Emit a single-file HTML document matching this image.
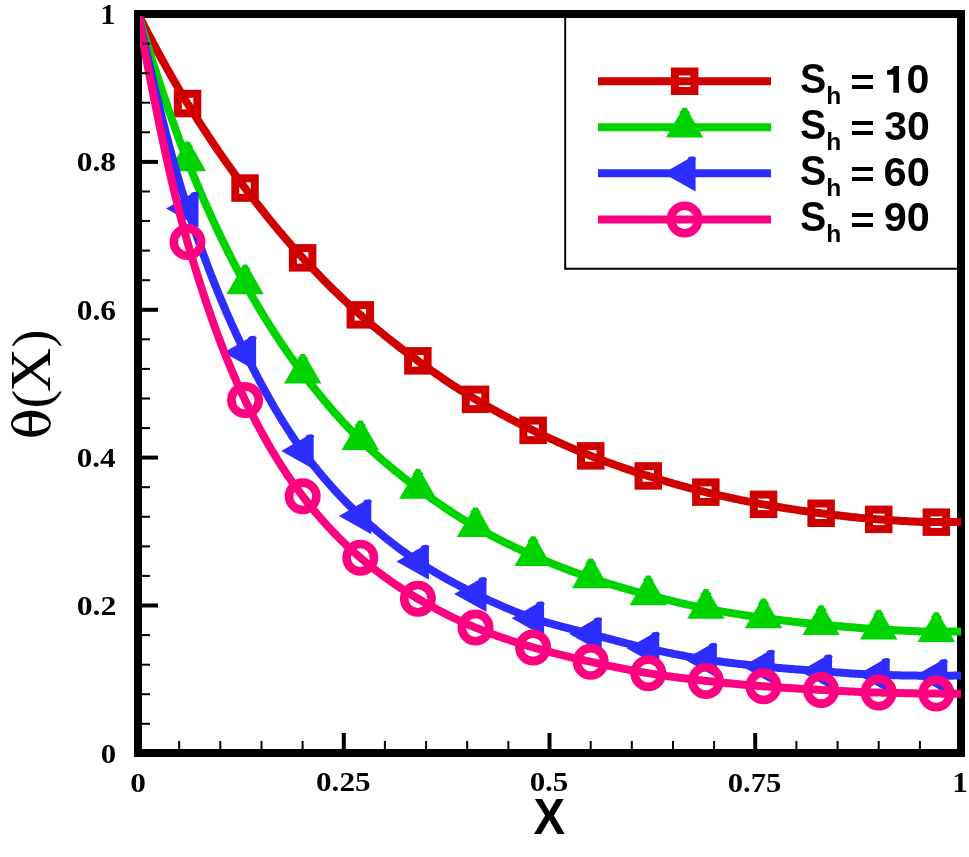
<!DOCTYPE html>
<html><head><meta charset="utf-8"><style>
html,body{margin:0;padding:0;background:#fff;}
svg{display:block;}
</style></head><body>
<svg width="969" height="857" viewBox="0 0 969 857">
<defs><clipPath id="clip"><rect x="140" y="16" width="821" height="735"/></clipPath></defs>
<rect width="969" height="857" fill="#fff"/>
<rect x="138" y="14" width="823" height="739" fill="none" stroke="#000" stroke-width="8"/>
<g clip-path="url(#clip)">
<path d="M138.0,14.0 L139.5,16.9 L141.0,19.9 L142.5,22.8 L144.0,25.7 L145.5,28.6 L147.0,31.5 L148.5,34.3 L150.0,37.2 L151.5,40.0 L153.0,42.8 L154.5,45.7 L156.0,48.5 L157.5,51.2 L159.0,54.0 L160.5,56.8 L162.0,59.5 L163.5,62.2 L165.0,64.9 L166.5,67.6 L168.0,70.3 L169.5,72.9 L171.0,75.6 L172.5,78.2 L174.0,80.8 L175.5,83.4 L177.0,86.0 L178.5,88.5 L180.0,91.1 L181.5,93.6 L183.0,96.1 L184.5,98.6 L186.0,101.1 L187.5,103.5 L189.0,105.9 L190.5,108.3 L192.0,110.8 L193.5,113.1 L195.0,115.5 L196.5,117.9 L198.0,120.2 L199.5,122.6 L201.0,124.9 L202.5,127.2 L204.0,129.5 L205.5,131.8 L207.0,134.1 L208.5,136.4 L210.0,138.6 L211.5,140.8 L213.0,143.1 L214.5,145.3 L216.0,147.5 L217.5,149.7 L219.0,151.9 L220.5,154.0 L222.0,156.2 L223.5,158.4 L225.0,160.5 L226.5,162.6 L228.0,164.7 L229.5,166.8 L231.0,168.9 L232.5,171.0 L234.0,173.1 L235.5,175.1 L237.0,177.2 L238.5,179.2 L240.0,181.3 L241.5,183.3 L243.0,185.3 L244.5,187.3 L246.0,189.3 L247.5,191.3 L249.0,193.3 L250.5,195.2 L252.0,197.2 L253.5,199.1 L255.0,201.1 L256.5,203.0 L258.0,204.9 L259.5,206.8 L261.0,208.7 L262.5,210.6 L264.0,212.5 L265.5,214.4 L267.0,216.3 L268.5,218.1 L270.0,220.0 L271.5,221.8 L273.0,223.6 L274.5,225.5 L276.0,227.3 L277.5,229.1 L279.0,230.9 L280.5,232.6 L282.0,234.4 L283.5,236.2 L285.0,237.9 L286.5,239.7 L288.0,241.4 L289.5,243.1 L291.0,244.9 L292.5,246.6 L294.0,248.3 L295.5,249.9 L297.0,251.6 L298.5,253.3 L300.0,254.9 L301.5,256.6 L303.0,258.2 L304.5,259.9 L306.0,261.5 L307.5,263.1 L309.0,264.7 L310.5,266.3 L312.0,267.9 L313.5,269.5 L315.0,271.0 L316.5,272.6 L318.0,274.2 L319.5,275.7 L321.0,277.2 L322.5,278.8 L324.0,280.3 L325.5,281.8 L327.0,283.3 L328.5,284.8 L330.0,286.3 L331.5,287.8 L333.0,289.3 L334.5,290.8 L336.0,292.2 L337.5,293.7 L339.0,295.1 L340.5,296.6 L342.0,298.0 L343.5,299.4 L345.0,300.8 L346.5,302.2 L348.0,303.6 L349.5,305.0 L351.0,306.4 L352.5,307.8 L354.0,309.2 L355.5,310.5 L357.0,311.9 L358.5,313.2 L360.0,314.5 L361.5,315.9 L363.0,317.2 L364.5,318.5 L366.0,319.8 L367.5,321.1 L369.0,322.4 L370.5,323.7 L372.0,324.9 L373.5,326.2 L375.0,327.5 L376.5,328.7 L378.0,329.9 L379.5,331.2 L381.0,332.4 L382.5,333.6 L384.0,334.9 L385.5,336.1 L387.0,337.3 L388.5,338.5 L390.0,339.7 L391.5,340.9 L393.0,342.1 L394.5,343.2 L396.0,344.4 L397.5,345.6 L399.0,346.7 L400.5,347.9 L402.0,349.0 L403.5,350.2 L405.0,351.3 L406.5,352.5 L408.0,353.6 L409.5,354.7 L411.0,355.8 L412.5,356.9 L414.0,358.0 L415.5,359.1 L417.0,360.2 L418.5,361.3 L420.0,362.4 L421.5,363.5 L423.0,364.6 L424.5,365.7 L426.0,366.7 L427.5,367.8 L429.0,368.9 L430.5,369.9 L432.0,371.0 L433.5,372.0 L435.0,373.1 L436.5,374.1 L438.0,375.2 L439.5,376.2 L441.0,377.2 L442.5,378.3 L444.0,379.3 L445.5,380.3 L447.0,381.3 L448.5,382.3 L450.0,383.3 L451.5,384.3 L453.0,385.3 L454.5,386.3 L456.0,387.2 L457.5,388.2 L459.0,389.2 L460.5,390.1 L462.0,391.1 L463.5,392.0 L465.0,393.0 L466.5,393.9 L468.0,394.8 L469.5,395.8 L471.0,396.7 L472.5,397.6 L474.0,398.5 L475.5,399.4 L477.0,400.3 L478.5,401.2 L480.0,402.1 L481.5,402.9 L483.0,403.8 L484.5,404.7 L486.0,405.5 L487.5,406.4 L489.0,407.3 L490.5,408.1 L492.0,408.9 L493.5,409.8 L495.0,410.6 L496.5,411.4 L498.0,412.3 L499.5,413.1 L501.0,413.9 L502.5,414.7 L504.0,415.5 L505.5,416.3 L507.0,417.1 L508.5,417.9 L510.0,418.7 L511.5,419.5 L513.0,420.3 L514.5,421.1 L516.0,421.8 L517.5,422.6 L519.0,423.4 L520.5,424.1 L522.0,424.9 L523.5,425.7 L525.0,426.4 L526.5,427.2 L528.0,427.9 L529.5,428.6 L531.0,429.4 L532.5,430.1 L534.0,430.8 L535.5,431.6 L537.0,432.3 L538.5,433.0 L540.0,433.7 L541.5,434.4 L543.0,435.1 L544.5,435.9 L546.0,436.6 L547.5,437.3 L549.0,438.0 L550.5,438.7 L552.0,439.4 L553.5,440.0 L555.0,440.7 L556.5,441.4 L558.0,442.1 L559.5,442.8 L561.0,443.4 L562.5,444.1 L564.0,444.8 L565.5,445.4 L567.0,446.1 L568.5,446.7 L570.0,447.4 L571.5,448.0 L573.0,448.7 L574.5,449.3 L576.0,449.9 L577.5,450.6 L579.0,451.2 L580.5,451.8 L582.0,452.4 L583.5,453.0 L585.0,453.6 L586.5,454.2 L588.0,454.8 L589.5,455.4 L591.0,456.0 L592.5,456.6 L594.0,457.2 L595.5,457.8 L597.0,458.3 L598.5,458.9 L600.0,459.5 L601.5,460.0 L603.0,460.6 L604.5,461.1 L606.0,461.7 L607.5,462.2 L609.0,462.8 L610.5,463.3 L612.0,463.9 L613.5,464.4 L615.0,464.9 L616.5,465.5 L618.0,466.0 L619.5,466.5 L621.0,467.0 L622.5,467.6 L624.0,468.1 L625.5,468.6 L627.0,469.1 L628.5,469.6 L630.0,470.1 L631.5,470.6 L633.0,471.1 L634.5,471.6 L636.0,472.1 L637.5,472.6 L639.0,473.1 L640.5,473.5 L642.0,474.0 L643.5,474.5 L645.0,475.0 L646.5,475.4 L648.0,475.9 L649.5,476.4 L651.0,476.8 L652.5,477.3 L654.0,477.8 L655.5,478.2 L657.0,478.7 L658.5,479.1 L660.0,479.6 L661.5,480.0 L663.0,480.5 L664.5,480.9 L666.0,481.4 L667.5,481.8 L669.0,482.3 L670.5,482.7 L672.0,483.1 L673.5,483.6 L675.0,484.0 L676.5,484.4 L678.0,484.9 L679.5,485.3 L681.0,485.7 L682.5,486.1 L684.0,486.5 L685.5,486.9 L687.0,487.3 L688.5,487.8 L690.0,488.2 L691.5,488.6 L693.0,488.9 L694.5,489.3 L696.0,489.7 L697.5,490.1 L699.0,490.5 L700.5,490.9 L702.0,491.2 L703.5,491.6 L705.0,492.0 L706.5,492.3 L708.0,492.7 L709.5,493.1 L711.0,493.4 L712.5,493.8 L714.0,494.1 L715.5,494.5 L717.0,494.8 L718.5,495.2 L720.0,495.5 L721.5,495.9 L723.0,496.2 L724.5,496.5 L726.0,496.9 L727.5,497.2 L729.0,497.5 L730.5,497.9 L732.0,498.2 L733.5,498.5 L735.0,498.8 L736.5,499.1 L738.0,499.4 L739.5,499.8 L741.0,500.1 L742.5,500.4 L744.0,500.7 L745.5,501.0 L747.0,501.3 L748.5,501.6 L750.0,501.9 L751.5,502.2 L753.0,502.5 L754.5,502.7 L756.0,503.0 L757.5,503.3 L759.0,503.6 L760.5,503.9 L762.0,504.1 L763.5,504.4 L765.0,504.7 L766.5,504.9 L768.0,505.2 L769.5,505.5 L771.0,505.7 L772.5,506.0 L774.0,506.2 L775.5,506.5 L777.0,506.7 L778.5,507.0 L780.0,507.2 L781.5,507.5 L783.0,507.7 L784.5,508.0 L786.0,508.2 L787.5,508.5 L789.0,508.7 L790.5,508.9 L792.0,509.2 L793.5,509.4 L795.0,509.6 L796.5,509.9 L798.0,510.1 L799.5,510.3 L801.0,510.6 L802.5,510.8 L804.0,511.0 L805.5,511.2 L807.0,511.4 L808.5,511.6 L810.0,511.8 L811.5,512.0 L813.0,512.2 L814.5,512.4 L816.0,512.6 L817.5,512.8 L819.0,513.0 L820.5,513.2 L822.0,513.4 L823.5,513.6 L825.0,513.8 L826.5,514.0 L828.0,514.2 L829.5,514.4 L831.0,514.5 L832.5,514.7 L834.0,514.9 L835.5,515.1 L837.0,515.3 L838.5,515.5 L840.0,515.6 L841.5,515.8 L843.0,516.0 L844.5,516.2 L846.0,516.3 L847.5,516.5 L849.0,516.7 L850.5,516.9 L852.0,517.0 L853.5,517.2 L855.0,517.3 L856.5,517.5 L858.0,517.6 L859.5,517.8 L861.0,517.9 L862.5,518.1 L864.0,518.2 L865.5,518.4 L867.0,518.5 L868.5,518.6 L870.0,518.8 L871.5,518.9 L873.0,519.0 L874.5,519.1 L876.0,519.2 L877.5,519.3 L879.0,519.4 L880.5,519.5 L882.0,519.6 L883.5,519.7 L885.0,519.8 L886.5,519.9 L888.0,520.0 L889.5,520.1 L891.0,520.2 L892.5,520.3 L894.0,520.4 L895.5,520.5 L897.0,520.6 L898.5,520.7 L900.0,520.8 L901.5,520.9 L903.0,521.0 L904.5,521.1 L906.0,521.1 L907.5,521.2 L909.0,521.3 L910.5,521.4 L912.0,521.4 L913.5,521.5 L915.0,521.6 L916.5,521.7 L918.0,521.7 L919.5,521.8 L921.0,521.8 L922.5,521.9 L924.0,521.9 L925.5,522.0 L927.0,522.0 L928.5,522.0 L930.0,522.1 L931.5,522.1 L933.0,522.1 L934.5,522.1 L936.0,522.1 L937.5,522.1 L939.0,522.1 L940.5,522.1 L942.0,522.1 L943.5,522.1 L945.0,522.1 L946.5,522.1 L948.0,522.1 L949.5,522.1 L951.0,522.1 L952.5,522.0 L954.0,522.0 L955.5,522.0 L957.0,522.0 L958.5,522.0 L960.0,521.9 L961.0,521.9" fill="none" stroke="#D00000" stroke-width="8" stroke-linejoin="round"/>
<rect x="177.8" y="93.8" width="19.5" height="19.5" fill="none" stroke="#D00000" stroke-width="8"/>
<rect x="235.3" y="178.3" width="19.5" height="19.5" fill="none" stroke="#D00000" stroke-width="8"/>
<rect x="292.9" y="248.1" width="19.5" height="19.5" fill="none" stroke="#D00000" stroke-width="8"/>
<rect x="350.6" y="305.1" width="19.5" height="19.5" fill="none" stroke="#D00000" stroke-width="8"/>
<rect x="408.1" y="351.1" width="19.5" height="19.5" fill="none" stroke="#D00000" stroke-width="8"/>
<rect x="465.8" y="389.6" width="19.5" height="19.5" fill="none" stroke="#D00000" stroke-width="8"/>
<rect x="523.4" y="420.6" width="19.5" height="19.5" fill="none" stroke="#D00000" stroke-width="8"/>
<rect x="581.0" y="446.1" width="19.5" height="19.5" fill="none" stroke="#D00000" stroke-width="8"/>
<rect x="638.5" y="466.2" width="19.5" height="19.5" fill="none" stroke="#D00000" stroke-width="8"/>
<rect x="696.1" y="482.4" width="19.5" height="19.5" fill="none" stroke="#D00000" stroke-width="8"/>
<rect x="753.8" y="494.6" width="19.5" height="19.5" fill="none" stroke="#D00000" stroke-width="8"/>
<rect x="811.4" y="503.5" width="19.5" height="19.5" fill="none" stroke="#D00000" stroke-width="8"/>
<rect x="869.0" y="509.6" width="19.5" height="19.5" fill="none" stroke="#D00000" stroke-width="8"/>
<rect x="926.6" y="512.4" width="19.5" height="19.5" fill="none" stroke="#D00000" stroke-width="8"/>
<path d="M138.0,14.0 L139.5,19.0 L141.0,24.0 L142.5,29.0 L144.0,33.9 L145.5,38.8 L147.0,43.7 L148.5,48.5 L150.0,53.3 L151.5,58.1 L153.0,62.8 L154.5,67.5 L156.0,72.2 L157.5,76.8 L159.0,81.4 L160.5,86.0 L162.0,90.5 L163.5,95.0 L165.0,99.4 L166.5,103.8 L168.0,108.2 L169.5,112.5 L171.0,116.8 L172.5,121.0 L174.0,125.2 L175.5,129.4 L177.0,133.5 L178.5,137.6 L180.0,141.6 L181.5,145.5 L183.0,149.4 L184.5,153.3 L186.0,157.1 L187.5,160.9 L189.0,164.6 L190.5,168.3 L192.0,172.0 L193.5,175.6 L195.0,179.2 L196.5,182.8 L198.0,186.4 L199.5,189.9 L201.0,193.4 L202.5,196.9 L204.0,200.3 L205.5,203.7 L207.0,207.1 L208.5,210.5 L210.0,213.8 L211.5,217.1 L213.0,220.4 L214.5,223.6 L216.0,226.8 L217.5,230.0 L219.0,233.2 L220.5,236.3 L222.0,239.4 L223.5,242.5 L225.0,245.6 L226.5,248.6 L228.0,251.6 L229.5,254.6 L231.0,257.5 L232.5,260.5 L234.0,263.4 L235.5,266.2 L237.0,269.1 L238.5,271.9 L240.0,274.7 L241.5,277.5 L243.0,280.2 L244.5,282.9 L246.0,285.6 L247.5,288.3 L249.0,290.9 L250.5,293.6 L252.0,296.2 L253.5,298.8 L255.0,301.3 L256.5,303.9 L258.0,306.4 L259.5,308.9 L261.0,311.4 L262.5,313.9 L264.0,316.4 L265.5,318.8 L267.0,321.2 L268.5,323.6 L270.0,326.0 L271.5,328.3 L273.0,330.7 L274.5,333.0 L276.0,335.3 L277.5,337.6 L279.0,339.8 L280.5,342.1 L282.0,344.3 L283.5,346.5 L285.0,348.7 L286.5,350.9 L288.0,353.0 L289.5,355.2 L291.0,357.3 L292.5,359.4 L294.0,361.5 L295.5,363.6 L297.0,365.6 L298.5,367.7 L300.0,369.7 L301.5,371.7 L303.0,373.7 L304.5,375.7 L306.0,377.6 L307.5,379.6 L309.0,381.5 L310.5,383.5 L312.0,385.4 L313.5,387.3 L315.0,389.2 L316.5,391.0 L318.0,392.9 L319.5,394.7 L321.0,396.6 L322.5,398.4 L324.0,400.2 L325.5,402.0 L327.0,403.8 L328.5,405.6 L330.0,407.3 L331.5,409.1 L333.0,410.8 L334.5,412.5 L336.0,414.2 L337.5,415.9 L339.0,417.6 L340.5,419.2 L342.0,420.9 L343.5,422.5 L345.0,424.1 L346.5,425.7 L348.0,427.3 L349.5,428.9 L351.0,430.4 L352.5,432.0 L354.0,433.5 L355.5,435.0 L357.0,436.5 L358.5,438.0 L360.0,439.5 L361.5,441.0 L363.0,442.4 L364.5,443.9 L366.0,445.3 L367.5,446.7 L369.0,448.1 L370.5,449.5 L372.0,450.9 L373.5,452.2 L375.0,453.6 L376.5,454.9 L378.0,456.3 L379.5,457.6 L381.0,458.9 L382.5,460.2 L384.0,461.5 L385.5,462.8 L387.0,464.0 L388.5,465.3 L390.0,466.6 L391.5,467.8 L393.0,469.1 L394.5,470.3 L396.0,471.5 L397.5,472.7 L399.0,473.9 L400.5,475.1 L402.0,476.3 L403.5,477.5 L405.0,478.7 L406.5,479.8 L408.0,481.0 L409.5,482.2 L411.0,483.3 L412.5,484.4 L414.0,485.6 L415.5,486.7 L417.0,487.8 L418.5,488.9 L420.0,490.1 L421.5,491.2 L423.0,492.3 L424.5,493.4 L426.0,494.5 L427.5,495.5 L429.0,496.6 L430.5,497.7 L432.0,498.8 L433.5,499.8 L435.0,500.9 L436.5,501.9 L438.0,503.0 L439.5,504.0 L441.0,505.0 L442.5,506.1 L444.0,507.1 L445.5,508.1 L447.0,509.1 L448.5,510.1 L450.0,511.1 L451.5,512.1 L453.0,513.1 L454.5,514.0 L456.0,515.0 L457.5,515.9 L459.0,516.9 L460.5,517.8 L462.0,518.8 L463.5,519.7 L465.0,520.6 L466.5,521.5 L468.0,522.4 L469.5,523.3 L471.0,524.2 L472.5,525.1 L474.0,525.9 L475.5,526.8 L477.0,527.7 L478.5,528.5 L480.0,529.3 L481.5,530.2 L483.0,531.0 L484.5,531.8 L486.0,532.6 L487.5,533.5 L489.0,534.3 L490.5,535.1 L492.0,535.9 L493.5,536.6 L495.0,537.4 L496.5,538.2 L498.0,539.0 L499.5,539.7 L501.0,540.5 L502.5,541.3 L504.0,542.0 L505.5,542.8 L507.0,543.5 L508.5,544.2 L510.0,545.0 L511.5,545.7 L513.0,546.4 L514.5,547.1 L516.0,547.8 L517.5,548.5 L519.0,549.2 L520.5,549.9 L522.0,550.6 L523.5,551.3 L525.0,552.0 L526.5,552.7 L528.0,553.3 L529.5,554.0 L531.0,554.7 L532.5,555.3 L534.0,556.0 L535.5,556.6 L537.0,557.3 L538.5,557.9 L540.0,558.6 L541.5,559.2 L543.0,559.8 L544.5,560.5 L546.0,561.1 L547.5,561.7 L549.0,562.3 L550.5,562.9 L552.0,563.6 L553.5,564.2 L555.0,564.8 L556.5,565.4 L558.0,566.0 L559.5,566.5 L561.0,567.1 L562.5,567.7 L564.0,568.3 L565.5,568.9 L567.0,569.4 L568.5,570.0 L570.0,570.6 L571.5,571.1 L573.0,571.7 L574.5,572.2 L576.0,572.8 L577.5,573.3 L579.0,573.9 L580.5,574.4 L582.0,574.9 L583.5,575.4 L585.0,576.0 L586.5,576.5 L588.0,577.0 L589.5,577.5 L591.0,578.0 L592.5,578.5 L594.0,579.0 L595.5,579.5 L597.0,580.0 L598.5,580.5 L600.0,580.9 L601.5,581.4 L603.0,581.9 L604.5,582.4 L606.0,582.8 L607.5,583.3 L609.0,583.8 L610.5,584.2 L612.0,584.7 L613.5,585.1 L615.0,585.6 L616.5,586.0 L618.0,586.5 L619.5,586.9 L621.0,587.4 L622.5,587.8 L624.0,588.2 L625.5,588.7 L627.0,589.1 L628.5,589.5 L630.0,589.9 L631.5,590.4 L633.0,590.8 L634.5,591.2 L636.0,591.6 L637.5,592.0 L639.0,592.4 L640.5,592.8 L642.0,593.2 L643.5,593.6 L645.0,594.0 L646.5,594.4 L648.0,594.8 L649.5,595.2 L651.0,595.6 L652.5,596.0 L654.0,596.4 L655.5,596.8 L657.0,597.2 L658.5,597.6 L660.0,597.9 L661.5,598.3 L663.0,598.7 L664.5,599.1 L666.0,599.5 L667.5,599.8 L669.0,600.2 L670.5,600.6 L672.0,601.0 L673.5,601.3 L675.0,601.7 L676.5,602.1 L678.0,602.4 L679.5,602.8 L681.0,603.1 L682.5,603.5 L684.0,603.8 L685.5,604.2 L687.0,604.5 L688.5,604.9 L690.0,605.2 L691.5,605.5 L693.0,605.8 L694.5,606.2 L696.0,606.5 L697.5,606.8 L699.0,607.1 L700.5,607.4 L702.0,607.7 L703.5,608.0 L705.0,608.3 L706.5,608.6 L708.0,608.9 L709.5,609.2 L711.0,609.5 L712.5,609.7 L714.0,610.0 L715.5,610.3 L717.0,610.6 L718.5,610.8 L720.0,611.1 L721.5,611.4 L723.0,611.6 L724.5,611.9 L726.0,612.2 L727.5,612.4 L729.0,612.7 L730.5,612.9 L732.0,613.2 L733.5,613.4 L735.0,613.7 L736.5,613.9 L738.0,614.1 L739.5,614.4 L741.0,614.6 L742.5,614.8 L744.0,615.1 L745.5,615.3 L747.0,615.5 L748.5,615.8 L750.0,616.0 L751.5,616.2 L753.0,616.4 L754.5,616.6 L756.0,616.9 L757.5,617.1 L759.0,617.3 L760.5,617.5 L762.0,617.7 L763.5,617.9 L765.0,618.1 L766.5,618.3 L768.0,618.5 L769.5,618.7 L771.0,618.9 L772.5,619.1 L774.0,619.3 L775.5,619.5 L777.0,619.7 L778.5,619.9 L780.0,620.1 L781.5,620.2 L783.0,620.4 L784.5,620.6 L786.0,620.8 L787.5,621.0 L789.0,621.2 L790.5,621.3 L792.0,621.5 L793.5,621.7 L795.0,621.9 L796.5,622.0 L798.0,622.2 L799.5,622.4 L801.0,622.5 L802.5,622.7 L804.0,622.9 L805.5,623.0 L807.0,623.2 L808.5,623.3 L810.0,623.5 L811.5,623.7 L813.0,623.8 L814.5,624.0 L816.0,624.1 L817.5,624.3 L819.0,624.4 L820.5,624.5 L822.0,624.7 L823.5,624.8 L825.0,625.0 L826.5,625.1 L828.0,625.2 L829.5,625.4 L831.0,625.5 L832.5,625.7 L834.0,625.8 L835.5,625.9 L837.0,626.1 L838.5,626.2 L840.0,626.3 L841.5,626.5 L843.0,626.6 L844.5,626.7 L846.0,626.9 L847.5,627.0 L849.0,627.1 L850.5,627.2 L852.0,627.3 L853.5,627.5 L855.0,627.6 L856.5,627.7 L858.0,627.8 L859.5,627.9 L861.0,628.0 L862.5,628.2 L864.0,628.3 L865.5,628.4 L867.0,628.5 L868.5,628.6 L870.0,628.7 L871.5,628.8 L873.0,628.9 L874.5,629.0 L876.0,629.0 L877.5,629.1 L879.0,629.2 L880.5,629.3 L882.0,629.4 L883.5,629.5 L885.0,629.6 L886.5,629.7 L888.0,629.7 L889.5,629.8 L891.0,629.9 L892.5,630.0 L894.0,630.1 L895.5,630.2 L897.0,630.3 L898.5,630.4 L900.0,630.4 L901.5,630.5 L903.0,630.6 L904.5,630.7 L906.0,630.8 L907.5,630.9 L909.0,630.9 L910.5,631.0 L912.0,631.1 L913.5,631.1 L915.0,631.2 L916.5,631.3 L918.0,631.3 L919.5,631.4 L921.0,631.4 L922.5,631.5 L924.0,631.5 L925.5,631.6 L927.0,631.6 L928.5,631.6 L930.0,631.7 L931.5,631.7 L933.0,631.7 L934.5,631.7 L936.0,631.7 L937.5,631.7 L939.0,631.7 L940.5,631.7 L942.0,631.7 L943.5,631.7 L945.0,631.7 L946.5,631.7 L948.0,631.6 L949.5,631.6 L951.0,631.6 L952.5,631.6 L954.0,631.6 L955.5,631.5 L957.0,631.5 L958.5,631.5 L960.0,631.4 L961.0,631.4" fill="none" stroke="#00D400" stroke-width="8" stroke-linejoin="round"/>
<polygon points="168.8,171.2 182.8,147.2 182.2,145.9 183.9,144.3 185.4,141.5 189.6,141.5 191.1,144.3 192.9,145.9 192.4,147.2 206.2,171.2" fill="#00D400"/>
<polygon points="226.4,294.3 240.4,270.3 239.8,269.0 241.5,267.4 243.0,264.6 247.2,264.6 248.7,267.4 250.5,269.0 250.0,270.3 263.8,294.3" fill="#00D400"/>
<polygon points="284.0,383.6 298.0,359.6 297.4,358.3 299.1,356.7 300.6,353.9 304.8,353.9 306.3,356.7 308.1,358.3 307.6,359.6 321.4,383.6" fill="#00D400"/>
<polygon points="341.6,450.1 355.6,426.1 355.0,424.8 356.7,423.2 358.2,420.4 362.4,420.4 363.9,423.2 365.7,424.8 365.2,426.1 379.0,450.1" fill="#00D400"/>
<polygon points="399.2,498.8 413.2,474.8 412.6,473.5 414.3,471.9 415.8,469.1 420.0,469.1 421.5,471.9 423.3,473.5 422.8,474.8 436.6,498.8" fill="#00D400"/>
<polygon points="456.8,537.1 470.8,513.1 470.2,511.8 471.9,510.2 473.4,507.4 477.6,507.4 479.1,510.2 480.9,511.8 480.4,513.1 494.2,537.1" fill="#00D400"/>
<polygon points="514.4,565.9 528.4,541.9 527.8,540.6 529.5,539.0 531.0,536.2 535.2,536.2 536.7,539.0 538.5,540.6 538.0,541.9 551.8,565.9" fill="#00D400"/>
<polygon points="572.0,588.2 586.0,564.2 585.4,562.9 587.1,561.3 588.6,558.5 592.8,558.5 594.3,561.3 596.1,562.9 595.6,564.2 609.4,588.2" fill="#00D400"/>
<polygon points="629.6,605.2 643.6,581.2 643.0,579.9 644.7,578.3 646.2,575.5 650.4,575.5 651.9,578.3 653.7,579.9 653.2,581.2 667.0,605.2" fill="#00D400"/>
<polygon points="687.2,618.8 701.2,594.8 700.6,593.5 702.3,591.9 703.8,589.1 708.0,589.1 709.5,591.9 711.3,593.5 710.8,594.8 724.6,618.8" fill="#00D400"/>
<polygon points="744.8,628.2 758.8,604.2 758.2,602.9 759.9,601.3 761.4,598.5 765.6,598.5 767.1,601.3 768.9,602.9 768.4,604.2 782.2,628.2" fill="#00D400"/>
<polygon points="802.4,634.9 816.4,610.9 815.8,609.6 817.5,608.0 819.0,605.2 823.2,605.2 824.7,608.0 826.5,609.6 826.0,610.9 839.8,634.9" fill="#00D400"/>
<polygon points="860.0,639.5 874.0,615.5 873.4,614.2 875.1,612.6 876.6,609.8 880.8,609.8 882.3,612.6 884.1,614.2 883.6,615.5 897.4,639.5" fill="#00D400"/>
<polygon points="917.6,642.0 931.6,618.0 931.0,616.7 932.7,615.1 934.2,612.3 938.4,612.3 939.9,615.1 941.7,616.7 941.2,618.0 955.0,642.0" fill="#00D400"/>
<path d="M138.0,14.0 L139.5,20.9 L141.0,27.7 L142.5,34.5 L144.0,41.2 L145.5,47.9 L147.0,54.5 L148.5,61.1 L150.0,67.6 L151.5,74.0 L153.0,80.5 L154.5,86.8 L156.0,93.1 L157.5,99.3 L159.0,105.5 L160.5,111.6 L162.0,117.6 L163.5,123.6 L165.0,129.5 L166.5,135.3 L168.0,141.1 L169.5,146.8 L171.0,152.4 L172.5,157.9 L174.0,163.3 L175.5,168.7 L177.0,174.0 L178.5,179.2 L180.0,184.3 L181.5,189.3 L183.0,194.2 L184.5,199.1 L186.0,203.8 L187.5,208.5 L189.0,213.1 L190.5,217.6 L192.0,222.1 L193.5,226.5 L195.0,230.9 L196.5,235.2 L198.0,239.5 L199.5,243.8 L201.0,247.9 L202.5,252.1 L204.0,256.2 L205.5,260.2 L207.0,264.2 L208.5,268.2 L210.0,272.1 L211.5,276.0 L213.0,279.8 L214.5,283.6 L216.0,287.3 L217.5,291.0 L219.0,294.7 L220.5,298.3 L222.0,301.9 L223.5,305.4 L225.0,308.9 L226.5,312.4 L228.0,315.8 L229.5,319.2 L231.0,322.6 L232.5,325.9 L234.0,329.2 L235.5,332.5 L237.0,335.7 L238.5,338.9 L240.0,342.1 L241.5,345.2 L243.0,348.3 L244.5,351.4 L246.0,354.4 L247.5,357.4 L249.0,360.4 L250.5,363.4 L252.0,366.4 L253.5,369.3 L255.0,372.2 L256.5,375.1 L258.0,377.9 L259.5,380.8 L261.0,383.6 L262.5,386.3 L264.0,389.1 L265.5,391.8 L267.0,394.5 L268.5,397.2 L270.0,399.9 L271.5,402.5 L273.0,405.1 L274.5,407.7 L276.0,410.2 L277.5,412.7 L279.0,415.2 L280.5,417.7 L282.0,420.1 L283.5,422.6 L285.0,424.9 L286.5,427.3 L288.0,429.6 L289.5,431.9 L291.0,434.2 L292.5,436.5 L294.0,438.7 L295.5,440.9 L297.0,443.0 L298.5,445.2 L300.0,447.3 L301.5,449.4 L303.0,451.4 L304.5,453.4 L306.0,455.4 L307.5,457.4 L309.0,459.4 L310.5,461.3 L312.0,463.3 L313.5,465.2 L315.0,467.0 L316.5,468.9 L318.0,470.8 L319.5,472.6 L321.0,474.4 L322.5,476.2 L324.0,478.0 L325.5,479.7 L327.0,481.5 L328.5,483.2 L330.0,484.9 L331.5,486.6 L333.0,488.3 L334.5,489.9 L336.0,491.6 L337.5,493.2 L339.0,494.8 L340.5,496.4 L342.0,498.0 L343.5,499.5 L345.0,501.1 L346.5,502.6 L348.0,504.1 L349.5,505.6 L351.0,507.1 L352.5,508.6 L354.0,510.0 L355.5,511.5 L357.0,512.9 L358.5,514.3 L360.0,515.7 L361.5,517.1 L363.0,518.5 L364.5,519.9 L366.0,521.2 L367.5,522.6 L369.0,523.9 L370.5,525.2 L372.0,526.5 L373.5,527.8 L375.0,529.1 L376.5,530.4 L378.0,531.7 L379.5,532.9 L381.0,534.2 L382.5,535.4 L384.0,536.6 L385.5,537.8 L387.0,539.0 L388.5,540.2 L390.0,541.4 L391.5,542.6 L393.0,543.7 L394.5,544.9 L396.0,546.0 L397.5,547.2 L399.0,548.3 L400.5,549.4 L402.0,550.5 L403.5,551.6 L405.0,552.7 L406.5,553.7 L408.0,554.8 L409.5,555.8 L411.0,556.9 L412.5,557.9 L414.0,558.9 L415.5,559.9 L417.0,560.9 L418.5,561.9 L420.0,562.9 L421.5,563.8 L423.0,564.8 L424.5,565.8 L426.0,566.7 L427.5,567.6 L429.0,568.6 L430.5,569.5 L432.0,570.4 L433.5,571.3 L435.0,572.2 L436.5,573.1 L438.0,574.0 L439.5,574.9 L441.0,575.7 L442.5,576.6 L444.0,577.4 L445.5,578.3 L447.0,579.1 L448.5,580.0 L450.0,580.8 L451.5,581.6 L453.0,582.4 L454.5,583.2 L456.0,584.0 L457.5,584.8 L459.0,585.6 L460.5,586.4 L462.0,587.2 L463.5,587.9 L465.0,588.7 L466.5,589.5 L468.0,590.2 L469.5,591.0 L471.0,591.7 L472.5,592.4 L474.0,593.2 L475.5,593.9 L477.0,594.6 L478.5,595.3 L480.0,596.1 L481.5,596.8 L483.0,597.5 L484.5,598.2 L486.0,598.9 L487.5,599.6 L489.0,600.3 L490.5,601.0 L492.0,601.7 L493.5,602.4 L495.0,603.0 L496.5,603.7 L498.0,604.4 L499.5,605.0 L501.0,605.7 L502.5,606.4 L504.0,607.0 L505.5,607.6 L507.0,608.3 L508.5,608.9 L510.0,609.5 L511.5,610.1 L513.0,610.8 L514.5,611.4 L516.0,612.0 L517.5,612.5 L519.0,613.1 L520.5,613.7 L522.0,614.3 L523.5,614.8 L525.0,615.4 L526.5,615.9 L528.0,616.5 L529.5,617.0 L531.0,617.5 L532.5,618.0 L534.0,618.5 L535.5,619.0 L537.0,619.5 L538.5,619.9 L540.0,620.4 L541.5,620.9 L543.0,621.3 L544.5,621.8 L546.0,622.2 L547.5,622.7 L549.0,623.1 L550.5,623.5 L552.0,623.9 L553.5,624.3 L555.0,624.8 L556.5,625.2 L558.0,625.6 L559.5,626.0 L561.0,626.4 L562.5,626.8 L564.0,627.2 L565.5,627.5 L567.0,627.9 L568.5,628.3 L570.0,628.7 L571.5,629.1 L573.0,629.5 L574.5,629.8 L576.0,630.2 L577.5,630.6 L579.0,631.0 L580.5,631.4 L582.0,631.8 L583.5,632.1 L585.0,632.5 L586.5,632.9 L588.0,633.3 L589.5,633.7 L591.0,634.1 L592.5,634.5 L594.0,634.9 L595.5,635.3 L597.0,635.7 L598.5,636.1 L600.0,636.5 L601.5,636.9 L603.0,637.2 L604.5,637.6 L606.0,638.0 L607.5,638.4 L609.0,638.8 L610.5,639.2 L612.0,639.6 L613.5,640.0 L615.0,640.4 L616.5,640.8 L618.0,641.2 L619.5,641.6 L621.0,642.0 L622.5,642.3 L624.0,642.7 L625.5,643.1 L627.0,643.5 L628.5,643.9 L630.0,644.2 L631.5,644.6 L633.0,645.0 L634.5,645.3 L636.0,645.7 L637.5,646.0 L639.0,646.4 L640.5,646.7 L642.0,647.1 L643.5,647.4 L645.0,647.8 L646.5,648.1 L648.0,648.4 L649.5,648.8 L651.0,649.1 L652.5,649.4 L654.0,649.7 L655.5,650.1 L657.0,650.4 L658.5,650.7 L660.0,651.0 L661.5,651.3 L663.0,651.6 L664.5,652.0 L666.0,652.3 L667.5,652.6 L669.0,652.9 L670.5,653.2 L672.0,653.5 L673.5,653.8 L675.0,654.1 L676.5,654.4 L678.0,654.7 L679.5,655.0 L681.0,655.2 L682.5,655.5 L684.0,655.8 L685.5,656.1 L687.0,656.4 L688.5,656.6 L690.0,656.9 L691.5,657.2 L693.0,657.4 L694.5,657.7 L696.0,657.9 L697.5,658.2 L699.0,658.4 L700.5,658.7 L702.0,658.9 L703.5,659.1 L705.0,659.4 L706.5,659.6 L708.0,659.8 L709.5,660.0 L711.0,660.2 L712.5,660.5 L714.0,660.7 L715.5,660.9 L717.0,661.1 L718.5,661.3 L720.0,661.5 L721.5,661.7 L723.0,661.9 L724.5,662.1 L726.0,662.3 L727.5,662.5 L729.0,662.7 L730.5,662.9 L732.0,663.0 L733.5,663.2 L735.0,663.4 L736.5,663.6 L738.0,663.8 L739.5,663.9 L741.0,664.1 L742.5,664.3 L744.0,664.5 L745.5,664.6 L747.0,664.8 L748.5,665.0 L750.0,665.1 L751.5,665.3 L753.0,665.4 L754.5,665.6 L756.0,665.7 L757.5,665.9 L759.0,666.1 L760.5,666.2 L762.0,666.4 L763.5,666.5 L765.0,666.6 L766.5,666.8 L768.0,666.9 L769.5,667.1 L771.0,667.2 L772.5,667.3 L774.0,667.5 L775.5,667.6 L777.0,667.8 L778.5,667.9 L780.0,668.0 L781.5,668.1 L783.0,668.3 L784.5,668.4 L786.0,668.5 L787.5,668.7 L789.0,668.8 L790.5,668.9 L792.0,669.0 L793.5,669.1 L795.0,669.3 L796.5,669.4 L798.0,669.5 L799.5,669.6 L801.0,669.7 L802.5,669.8 L804.0,670.0 L805.5,670.1 L807.0,670.2 L808.5,670.3 L810.0,670.4 L811.5,670.5 L813.0,670.6 L814.5,670.7 L816.0,670.8 L817.5,670.9 L819.0,671.1 L820.5,671.2 L822.0,671.3 L823.5,671.4 L825.0,671.5 L826.5,671.6 L828.0,671.7 L829.5,671.8 L831.0,671.9 L832.5,672.0 L834.0,672.1 L835.5,672.3 L837.0,672.4 L838.5,672.5 L840.0,672.6 L841.5,672.7 L843.0,672.8 L844.5,672.9 L846.0,673.0 L847.5,673.1 L849.0,673.3 L850.5,673.4 L852.0,673.5 L853.5,673.6 L855.0,673.7 L856.5,673.8 L858.0,673.8 L859.5,673.9 L861.0,674.0 L862.5,674.1 L864.0,674.2 L865.5,674.3 L867.0,674.3 L868.5,674.4 L870.0,674.5 L871.5,674.6 L873.0,674.6 L874.5,674.7 L876.0,674.7 L877.5,674.8 L879.0,674.8 L880.5,674.8 L882.0,674.9 L883.5,674.9 L885.0,675.0 L886.5,675.0 L888.0,675.0 L889.5,675.1 L891.0,675.1 L892.5,675.2 L894.0,675.2 L895.5,675.2 L897.0,675.3 L898.5,675.3 L900.0,675.3 L901.5,675.4 L903.0,675.4 L904.5,675.4 L906.0,675.5 L907.5,675.5 L909.0,675.5 L910.5,675.6 L912.0,675.6 L913.5,675.6 L915.0,675.6 L916.5,675.6 L918.0,675.7 L919.5,675.7 L921.0,675.7 L922.5,675.7 L924.0,675.7 L925.5,675.8 L927.0,675.8 L928.5,675.8 L930.0,675.8 L931.5,675.8 L933.0,675.8 L934.5,675.8 L936.0,675.8 L937.5,675.8 L939.0,675.8 L940.5,675.8 L942.0,675.8 L943.5,675.8 L945.0,675.8 L946.5,675.7 L948.0,675.7 L949.5,675.7 L951.0,675.7 L952.5,675.7 L954.0,675.6 L955.5,675.6 L957.0,675.6 L958.5,675.6 L960.0,675.5 L961.0,675.5" fill="none" stroke="#2D2DFF" stroke-width="8" stroke-linejoin="round"/>
<polygon points="166.1,208.5 190.5,194.5 190.9,192.9 193.5,191.9 197.1,191.7 199.1,193.5 198.5,195.3 198.5,226.7" fill="#2D2DFF"/>
<polygon points="223.7,352.6 248.1,338.6 248.5,337.0 251.1,336.0 254.7,335.8 256.7,337.6 256.1,339.4 256.1,370.8" fill="#2D2DFF"/>
<polygon points="281.3,451.0 305.7,437.0 306.1,435.4 308.7,434.4 312.3,434.2 314.3,436.0 313.7,437.8 313.7,469.2" fill="#2D2DFF"/>
<polygon points="338.9,516.0 363.3,502.0 363.7,500.4 366.3,499.4 369.9,499.2 371.9,501.0 371.3,502.8 371.3,534.2" fill="#2D2DFF"/>
<polygon points="396.5,561.5 420.9,547.5 421.3,545.9 423.9,544.9 427.5,544.7 429.5,546.5 428.9,548.3 428.9,579.7" fill="#2D2DFF"/>
<polygon points="454.1,593.9 478.5,579.9 478.9,578.3 481.5,577.3 485.1,577.1 487.1,578.9 486.5,580.7 486.5,612.1" fill="#2D2DFF"/>
<polygon points="511.7,618.2 536.1,604.2 536.5,602.6 539.1,601.6 542.7,601.4 544.7,603.2 544.1,605.0 544.1,636.4" fill="#2D2DFF"/>
<polygon points="569.3,634.0 593.7,620.0 594.1,618.4 596.7,617.4 600.3,617.2 602.3,619.0 601.7,620.8 601.7,652.2" fill="#2D2DFF"/>
<polygon points="626.9,648.5 651.3,634.5 651.7,632.9 654.3,631.9 657.9,631.7 659.9,633.5 659.3,635.3 659.3,666.7" fill="#2D2DFF"/>
<polygon points="684.5,659.5 708.9,645.5 709.3,643.9 711.9,642.9 715.5,642.7 717.5,644.5 716.9,646.3 716.9,677.7" fill="#2D2DFF"/>
<polygon points="742.1,666.5 766.5,652.5 766.9,650.9 769.5,649.9 773.1,649.7 775.1,651.5 774.5,653.3 774.5,684.7" fill="#2D2DFF"/>
<polygon points="799.7,671.2 824.1,657.2 824.5,655.6 827.1,654.6 830.7,654.4 832.7,656.2 832.1,658.0 832.1,689.4" fill="#2D2DFF"/>
<polygon points="857.3,674.8 881.7,660.8 882.1,659.2 884.7,658.2 888.3,658.0 890.3,659.8 889.7,661.6 889.7,693.0" fill="#2D2DFF"/>
<polygon points="914.9,675.8 939.3,661.8 939.7,660.2 942.3,659.2 945.9,659.0 947.9,660.8 947.3,662.6 947.3,694.0" fill="#2D2DFF"/>
<path d="M138.0,14.0 L139.5,22.2 L141.0,30.3 L142.5,38.4 L144.0,46.4 L145.5,54.3 L147.0,62.2 L148.5,70.0 L150.0,77.8 L151.5,85.4 L153.0,93.0 L154.5,100.6 L156.0,108.0 L157.5,115.4 L159.0,122.7 L160.5,129.9 L162.0,137.0 L163.5,144.0 L165.0,150.9 L166.5,157.7 L168.0,164.5 L169.5,171.1 L171.0,177.6 L172.5,184.1 L174.0,190.4 L175.5,196.6 L177.0,202.7 L178.5,208.7 L180.0,214.6 L181.5,220.3 L183.0,225.9 L184.5,231.5 L186.0,236.8 L187.5,242.1 L189.0,247.3 L190.5,252.4 L192.0,257.4 L193.5,262.4 L195.0,267.3 L196.5,272.2 L198.0,277.0 L199.5,281.7 L201.0,286.4 L202.5,291.1 L204.0,295.6 L205.5,300.2 L207.0,304.6 L208.5,309.0 L210.0,313.4 L211.5,317.7 L213.0,321.9 L214.5,326.1 L216.0,330.3 L217.5,334.3 L219.0,338.4 L220.5,342.3 L222.0,346.2 L223.5,350.1 L225.0,353.9 L226.5,357.7 L228.0,361.4 L229.5,365.1 L231.0,368.7 L232.5,372.2 L234.0,375.7 L235.5,379.2 L237.0,382.6 L238.5,385.9 L240.0,389.2 L241.5,392.5 L243.0,395.7 L244.5,398.9 L246.0,402.0 L247.5,405.0 L249.0,408.1 L250.5,411.1 L252.0,414.1 L253.5,417.0 L255.0,419.9 L256.5,422.8 L258.0,425.6 L259.5,428.4 L261.0,431.2 L262.5,434.0 L264.0,436.7 L265.5,439.3 L267.0,442.0 L268.5,444.6 L270.0,447.2 L271.5,449.8 L273.0,452.3 L274.5,454.8 L276.0,457.2 L277.5,459.7 L279.0,462.1 L280.5,464.5 L282.0,466.8 L283.5,469.1 L285.0,471.4 L286.5,473.7 L288.0,475.9 L289.5,478.1 L291.0,480.3 L292.5,482.4 L294.0,484.5 L295.5,486.6 L297.0,488.7 L298.5,490.7 L300.0,492.7 L301.5,494.7 L303.0,496.7 L304.5,498.6 L306.0,500.5 L307.5,502.4 L309.0,504.3 L310.5,506.2 L312.0,508.0 L313.5,509.8 L315.0,511.6 L316.5,513.4 L318.0,515.2 L319.5,516.9 L321.0,518.7 L322.5,520.4 L324.0,522.1 L325.5,523.7 L327.0,525.4 L328.5,527.0 L330.0,528.6 L331.5,530.2 L333.0,531.8 L334.5,533.4 L336.0,534.9 L337.5,536.4 L339.0,538.0 L340.5,539.5 L342.0,540.9 L343.5,542.4 L345.0,543.8 L346.5,545.3 L348.0,546.7 L349.5,548.1 L351.0,549.5 L352.5,550.8 L354.0,552.2 L355.5,553.5 L357.0,554.8 L358.5,556.2 L360.0,557.4 L361.5,558.7 L363.0,560.0 L364.5,561.2 L366.0,562.5 L367.5,563.7 L369.0,564.9 L370.5,566.1 L372.0,567.3 L373.5,568.5 L375.0,569.7 L376.5,570.8 L378.0,572.0 L379.5,573.1 L381.0,574.2 L382.5,575.3 L384.0,576.4 L385.5,577.5 L387.0,578.6 L388.5,579.7 L390.0,580.7 L391.5,581.8 L393.0,582.8 L394.5,583.9 L396.0,584.9 L397.5,585.9 L399.0,586.9 L400.5,587.9 L402.0,588.9 L403.5,589.8 L405.0,590.8 L406.5,591.7 L408.0,592.7 L409.5,593.6 L411.0,594.6 L412.5,595.5 L414.0,596.4 L415.5,597.3 L417.0,598.2 L418.5,599.1 L420.0,599.9 L421.5,600.8 L423.0,601.7 L424.5,602.5 L426.0,603.4 L427.5,604.2 L429.0,605.1 L430.5,605.9 L432.0,606.7 L433.5,607.5 L435.0,608.3 L436.5,609.2 L438.0,610.0 L439.5,610.7 L441.0,611.5 L442.5,612.3 L444.0,613.1 L445.5,613.8 L447.0,614.6 L448.5,615.4 L450.0,616.1 L451.5,616.8 L453.0,617.6 L454.5,618.3 L456.0,619.0 L457.5,619.7 L459.0,620.4 L460.5,621.1 L462.0,621.8 L463.5,622.5 L465.0,623.1 L466.5,623.8 L468.0,624.4 L469.5,625.1 L471.0,625.7 L472.5,626.4 L474.0,627.0 L475.5,627.6 L477.0,628.2 L478.5,628.8 L480.0,629.4 L481.5,630.0 L483.0,630.6 L484.5,631.2 L486.0,631.7 L487.5,632.3 L489.0,632.9 L490.5,633.4 L492.0,634.0 L493.5,634.5 L495.0,635.1 L496.5,635.6 L498.0,636.2 L499.5,636.7 L501.0,637.2 L502.5,637.7 L504.0,638.3 L505.5,638.8 L507.0,639.3 L508.5,639.8 L510.0,640.3 L511.5,640.8 L513.0,641.2 L514.5,641.7 L516.0,642.2 L517.5,642.7 L519.0,643.2 L520.5,643.6 L522.0,644.1 L523.5,644.5 L525.0,645.0 L526.5,645.5 L528.0,645.9 L529.5,646.3 L531.0,646.8 L532.5,647.2 L534.0,647.7 L535.5,648.1 L537.0,648.5 L538.5,648.9 L540.0,649.4 L541.5,649.8 L543.0,650.2 L544.5,650.6 L546.0,651.0 L547.5,651.4 L549.0,651.8 L550.5,652.2 L552.0,652.6 L553.5,653.0 L555.0,653.4 L556.5,653.7 L558.0,654.1 L559.5,654.5 L561.0,654.9 L562.5,655.2 L564.0,655.6 L565.5,656.0 L567.0,656.3 L568.5,656.7 L570.0,657.1 L571.5,657.4 L573.0,657.8 L574.5,658.1 L576.0,658.5 L577.5,658.8 L579.0,659.2 L580.5,659.5 L582.0,659.9 L583.5,660.2 L585.0,660.5 L586.5,660.9 L588.0,661.2 L589.5,661.5 L591.0,661.9 L592.5,662.2 L594.0,662.5 L595.5,662.9 L597.0,663.2 L598.5,663.5 L600.0,663.8 L601.5,664.2 L603.0,664.5 L604.5,664.8 L606.0,665.1 L607.5,665.5 L609.0,665.8 L610.5,666.1 L612.0,666.4 L613.5,666.7 L615.0,667.0 L616.5,667.3 L618.0,667.6 L619.5,667.9 L621.0,668.2 L622.5,668.5 L624.0,668.8 L625.5,669.1 L627.0,669.4 L628.5,669.7 L630.0,670.0 L631.5,670.3 L633.0,670.6 L634.5,670.8 L636.0,671.1 L637.5,671.4 L639.0,671.6 L640.5,671.9 L642.0,672.2 L643.5,672.4 L645.0,672.7 L646.5,672.9 L648.0,673.2 L649.5,673.4 L651.0,673.6 L652.5,673.9 L654.0,674.1 L655.5,674.3 L657.0,674.6 L658.5,674.8 L660.0,675.0 L661.5,675.2 L663.0,675.4 L664.5,675.7 L666.0,675.9 L667.5,676.1 L669.0,676.3 L670.5,676.5 L672.0,676.7 L673.5,676.9 L675.0,677.1 L676.5,677.3 L678.0,677.5 L679.5,677.7 L681.0,677.9 L682.5,678.1 L684.0,678.3 L685.5,678.5 L687.0,678.7 L688.5,678.9 L690.0,679.1 L691.5,679.2 L693.0,679.4 L694.5,679.6 L696.0,679.8 L697.5,679.9 L699.0,680.1 L700.5,680.3 L702.0,680.5 L703.5,680.6 L705.0,680.8 L706.5,681.0 L708.0,681.1 L709.5,681.3 L711.0,681.5 L712.5,681.6 L714.0,681.8 L715.5,681.9 L717.0,682.1 L718.5,682.2 L720.0,682.4 L721.5,682.6 L723.0,682.7 L724.5,682.9 L726.0,683.0 L727.5,683.2 L729.0,683.3 L730.5,683.5 L732.0,683.6 L733.5,683.7 L735.0,683.9 L736.5,684.0 L738.0,684.2 L739.5,684.3 L741.0,684.4 L742.5,684.6 L744.0,684.7 L745.5,684.8 L747.0,685.0 L748.5,685.1 L750.0,685.2 L751.5,685.3 L753.0,685.5 L754.5,685.6 L756.0,685.7 L757.5,685.8 L759.0,686.0 L760.5,686.1 L762.0,686.2 L763.5,686.3 L765.0,686.4 L766.5,686.5 L768.0,686.6 L769.5,686.7 L771.0,686.8 L772.5,687.0 L774.0,687.1 L775.5,687.2 L777.0,687.3 L778.5,687.4 L780.0,687.5 L781.5,687.6 L783.0,687.7 L784.5,687.8 L786.0,687.9 L787.5,688.0 L789.0,688.0 L790.5,688.1 L792.0,688.2 L793.5,688.3 L795.0,688.4 L796.5,688.5 L798.0,688.6 L799.5,688.7 L801.0,688.8 L802.5,688.9 L804.0,689.0 L805.5,689.0 L807.0,689.1 L808.5,689.2 L810.0,689.3 L811.5,689.4 L813.0,689.5 L814.5,689.5 L816.0,689.6 L817.5,689.7 L819.0,689.8 L820.5,689.9 L822.0,689.9 L823.5,690.0 L825.0,690.1 L826.5,690.2 L828.0,690.3 L829.5,690.4 L831.0,690.4 L832.5,690.5 L834.0,690.6 L835.5,690.7 L837.0,690.8 L838.5,690.9 L840.0,690.9 L841.5,691.0 L843.0,691.1 L844.5,691.2 L846.0,691.3 L847.5,691.3 L849.0,691.4 L850.5,691.5 L852.0,691.6 L853.5,691.6 L855.0,691.7 L856.5,691.8 L858.0,691.8 L859.5,691.9 L861.0,692.0 L862.5,692.0 L864.0,692.1 L865.5,692.2 L867.0,692.2 L868.5,692.3 L870.0,692.3 L871.5,692.4 L873.0,692.4 L874.5,692.5 L876.0,692.5 L877.5,692.6 L879.0,692.6 L880.5,692.6 L882.0,692.7 L883.5,692.7 L885.0,692.8 L886.5,692.8 L888.0,692.8 L889.5,692.9 L891.0,692.9 L892.5,692.9 L894.0,693.0 L895.5,693.0 L897.0,693.0 L898.5,693.0 L900.0,693.1 L901.5,693.1 L903.0,693.1 L904.5,693.2 L906.0,693.2 L907.5,693.2 L909.0,693.2 L910.5,693.3 L912.0,693.3 L913.5,693.3 L915.0,693.3 L916.5,693.4 L918.0,693.4 L919.5,693.4 L921.0,693.4 L922.5,693.4 L924.0,693.5 L925.5,693.5 L927.0,693.5 L928.5,693.5 L930.0,693.5 L931.5,693.5 L933.0,693.6 L934.5,693.6 L936.0,693.6 L937.5,693.6 L939.0,693.6 L940.5,693.6 L942.0,693.7 L943.5,693.7 L945.0,693.7 L946.5,693.7 L948.0,693.7 L949.5,693.7 L951.0,693.7 L952.5,693.7 L954.0,693.8 L955.5,693.8 L957.0,693.8 L958.5,693.8 L960.0,693.8 L961.0,693.8" fill="none" stroke="#FF0080" stroke-width="8" stroke-linejoin="round"/>
<circle cx="187.5" cy="242.1" r="13.7" fill="none" stroke="#FF0080" stroke-width="8.6"/>
<circle cx="245.1" cy="400.1" r="13.7" fill="none" stroke="#FF0080" stroke-width="8.6"/>
<circle cx="302.7" cy="496.3" r="13.7" fill="none" stroke="#FF0080" stroke-width="8.6"/>
<circle cx="360.3" cy="557.7" r="13.7" fill="none" stroke="#FF0080" stroke-width="8.6"/>
<circle cx="417.9" cy="598.7" r="13.7" fill="none" stroke="#FF0080" stroke-width="8.6"/>
<circle cx="475.5" cy="627.6" r="13.7" fill="none" stroke="#FF0080" stroke-width="8.6"/>
<circle cx="533.1" cy="647.4" r="13.7" fill="none" stroke="#FF0080" stroke-width="8.6"/>
<circle cx="590.7" cy="661.8" r="13.7" fill="none" stroke="#FF0080" stroke-width="8.6"/>
<circle cx="648.3" cy="673.2" r="13.7" fill="none" stroke="#FF0080" stroke-width="8.6"/>
<circle cx="705.9" cy="680.9" r="13.7" fill="none" stroke="#FF0080" stroke-width="8.6"/>
<circle cx="763.5" cy="686.3" r="13.7" fill="none" stroke="#FF0080" stroke-width="8.6"/>
<circle cx="821.1" cy="689.9" r="13.7" fill="none" stroke="#FF0080" stroke-width="8.6"/>
<circle cx="878.7" cy="692.6" r="13.7" fill="none" stroke="#FF0080" stroke-width="8.6"/>
<circle cx="936.3" cy="693.6" r="13.7" fill="none" stroke="#FF0080" stroke-width="8.6"/>
</g>
<line x1="142" y1="753.4" x2="158" y2="753.4" stroke="#000" stroke-width="4"/>
<line x1="142" y1="723.8" x2="150" y2="723.8" stroke="#000" stroke-width="2"/>
<line x1="142" y1="694.2" x2="150" y2="694.2" stroke="#000" stroke-width="2"/>
<line x1="142" y1="664.7" x2="150" y2="664.7" stroke="#000" stroke-width="2"/>
<line x1="142" y1="635.1" x2="150" y2="635.1" stroke="#000" stroke-width="2"/>
<line x1="142" y1="605.5" x2="158" y2="605.5" stroke="#000" stroke-width="4"/>
<line x1="142" y1="575.9" x2="150" y2="575.9" stroke="#000" stroke-width="2"/>
<line x1="142" y1="546.4" x2="150" y2="546.4" stroke="#000" stroke-width="2"/>
<line x1="142" y1="516.8" x2="150" y2="516.8" stroke="#000" stroke-width="2"/>
<line x1="142" y1="487.2" x2="150" y2="487.2" stroke="#000" stroke-width="2"/>
<line x1="142" y1="457.6" x2="158" y2="457.6" stroke="#000" stroke-width="4"/>
<line x1="142" y1="428.1" x2="150" y2="428.1" stroke="#000" stroke-width="2"/>
<line x1="142" y1="398.5" x2="150" y2="398.5" stroke="#000" stroke-width="2"/>
<line x1="142" y1="368.9" x2="150" y2="368.9" stroke="#000" stroke-width="2"/>
<line x1="142" y1="339.3" x2="150" y2="339.3" stroke="#000" stroke-width="2"/>
<line x1="142" y1="309.8" x2="158" y2="309.8" stroke="#000" stroke-width="4"/>
<line x1="142" y1="280.2" x2="150" y2="280.2" stroke="#000" stroke-width="2"/>
<line x1="142" y1="250.6" x2="150" y2="250.6" stroke="#000" stroke-width="2"/>
<line x1="142" y1="221.0" x2="150" y2="221.0" stroke="#000" stroke-width="2"/>
<line x1="142" y1="191.5" x2="150" y2="191.5" stroke="#000" stroke-width="2"/>
<line x1="142" y1="161.9" x2="158" y2="161.9" stroke="#000" stroke-width="4"/>
<line x1="142" y1="132.3" x2="150" y2="132.3" stroke="#000" stroke-width="2"/>
<line x1="142" y1="102.7" x2="150" y2="102.7" stroke="#000" stroke-width="2"/>
<line x1="142" y1="73.2" x2="150" y2="73.2" stroke="#000" stroke-width="2"/>
<line x1="142" y1="43.6" x2="150" y2="43.6" stroke="#000" stroke-width="2"/>
<line x1="142" y1="14.0" x2="158" y2="14.0" stroke="#000" stroke-width="4"/>
<line x1="138.0" y1="749" x2="138.0" y2="733" stroke="#000" stroke-width="4"/>
<line x1="179.2" y1="749" x2="179.2" y2="741" stroke="#000" stroke-width="2"/>
<line x1="220.3" y1="749" x2="220.3" y2="741" stroke="#000" stroke-width="2"/>
<line x1="261.5" y1="749" x2="261.5" y2="741" stroke="#000" stroke-width="2"/>
<line x1="302.6" y1="749" x2="302.6" y2="741" stroke="#000" stroke-width="2"/>
<line x1="343.8" y1="749" x2="343.8" y2="733" stroke="#000" stroke-width="4"/>
<line x1="384.9" y1="749" x2="384.9" y2="741" stroke="#000" stroke-width="2"/>
<line x1="426.1" y1="749" x2="426.1" y2="741" stroke="#000" stroke-width="2"/>
<line x1="467.2" y1="749" x2="467.2" y2="741" stroke="#000" stroke-width="2"/>
<line x1="508.4" y1="749" x2="508.4" y2="741" stroke="#000" stroke-width="2"/>
<line x1="549.5" y1="749" x2="549.5" y2="733" stroke="#000" stroke-width="4"/>
<line x1="590.7" y1="749" x2="590.7" y2="741" stroke="#000" stroke-width="2"/>
<line x1="631.8" y1="749" x2="631.8" y2="741" stroke="#000" stroke-width="2"/>
<line x1="673.0" y1="749" x2="673.0" y2="741" stroke="#000" stroke-width="2"/>
<line x1="714.1" y1="749" x2="714.1" y2="741" stroke="#000" stroke-width="2"/>
<line x1="755.2" y1="749" x2="755.2" y2="733" stroke="#000" stroke-width="4"/>
<line x1="796.4" y1="749" x2="796.4" y2="741" stroke="#000" stroke-width="2"/>
<line x1="837.6" y1="749" x2="837.6" y2="741" stroke="#000" stroke-width="2"/>
<line x1="878.7" y1="749" x2="878.7" y2="741" stroke="#000" stroke-width="2"/>
<line x1="919.9" y1="749" x2="919.9" y2="741" stroke="#000" stroke-width="2"/>
<line x1="961.0" y1="749" x2="961.0" y2="733" stroke="#000" stroke-width="4"/>
<path d="M565.2,14 V268.7 H961" fill="none" stroke="#000" stroke-width="2"/>
<line x1="598" y1="81.2" x2="771" y2="81.2" stroke="#D00000" stroke-width="8"/>
<rect x="674.9" y="71.5" width="19.5" height="19.5" fill="none" stroke="#D00000" stroke-width="8"/>
<line x1="598" y1="127.2" x2="771" y2="127.2" stroke="#00D400" stroke-width="8"/>
<polygon points="665.9,137.5 679.9,113.5 679.3,112.2 681.0,110.6 682.5,107.8 686.7,107.8 688.2,110.6 690.0,112.2 689.5,113.5 703.3,137.5" fill="#00D400"/>
<line x1="598" y1="173.2" x2="771" y2="173.2" stroke="#2D2DFF" stroke-width="8"/>
<polygon points="663.2,173.2 687.6,159.2 688.0,157.6 690.6,156.6 694.2,156.4 696.2,158.2 695.6,160.0 695.6,191.4" fill="#2D2DFF"/>
<line x1="598" y1="219.5" x2="771" y2="219.5" stroke="#FF0080" stroke-width="8"/>
<circle cx="684.6" cy="219.5" r="13.7" fill="none" stroke="#FF0080" stroke-width="8.6"/>
<path d="M11.00,423.80 A19.95,13 0 1,0 50.90,423.80 A19.95,13 0 1,0 11.00,423.80 Z M12.95,423.95 A18.0,7.3 0 1,0 48.95,423.95 A18.0,7.3 0 1,0 12.95,423.95 Z" fill="#000" fill-rule="evenodd"/>
<rect x="28.8" y="416.5" width="3.2" height="15" fill="#000"/>
<path d="M899,66 L899,92.8 L893.3,92.8 L893.3,74.7 L887.1,74.7 L887.1,70.3 C890.5,70.3 892.8,69 894,66 Z" fill="#000"/>
<g style="will-change:transform">
<text transform="matrix(0.30476,0,0,0.28939,100.362,24.100)" style="font-family:'Liberation Serif',serif;font-weight:bold;font-size:100px">1</text>
<text transform="matrix(0.31525,0,0,0.27647,76.718,171.285)" style="font-family:'Liberation Serif',serif;font-weight:bold;font-size:100px">0.8</text>
<text transform="matrix(0.31459,0,0,0.28382,76.720,319.574)" style="font-family:'Liberation Serif',serif;font-weight:bold;font-size:100px">0.6</text>
<text transform="matrix(0.31130,0,0,0.28088,76.733,466.579)" style="font-family:'Liberation Serif',serif;font-weight:bold;font-size:100px">0.4</text>
<text transform="matrix(0.31795,0,0,0.28235,76.708,614.576)" style="font-family:'Liberation Serif',serif;font-weight:bold;font-size:100px">0.2</text>
<text transform="matrix(0.30824,0,0,0.28000,100.844,762.620)" style="font-family:'Liberation Serif',serif;font-weight:bold;font-size:100px">0</text>
<text transform="matrix(0.31294,0,0,0.28148,130.226,791.619)" style="font-family:'Liberation Serif',serif;font-weight:bold;font-size:100px">0</text>
<text transform="matrix(0.31164,0,0,0.28088,316.031,791.479)" style="font-family:'Liberation Serif',serif;font-weight:bold;font-size:100px">0.25</text>
<text transform="matrix(0.30979,0,0,0.27941,529.638,791.481)" style="font-family:'Liberation Serif',serif;font-weight:bold;font-size:100px">0.5</text>
<text transform="matrix(0.30746,0,0,0.28382,727.647,791.674)" style="font-family:'Liberation Serif',serif;font-weight:bold;font-size:100px">0.75</text>
<text transform="matrix(0.31020,0,0,0.29242,952.318,792.100)" style="font-family:'Liberation Serif',serif;font-weight:bold;font-size:100px">1</text>
<text transform="matrix(0.47413,0,0,0.50764,533.526,833.900)" style="font-family:'Liberation Sans',sans-serif;font-weight:bold;font-size:100px">X</text>
<text transform="matrix(0,-0.53592,0.54475,0,49.724,347.542)" style="font-family:'Liberation Serif',serif;font-size:100px">)</text>
<text transform="matrix(0,-0.61099,0.58015,0,49.900,392.075)" style="font-family:'Liberation Serif',serif;font-size:100px">X</text>
<text transform="matrix(0,-0.56078,0.54475,0,49.724,408.524)" style="font-family:'Liberation Serif',serif;font-size:100px">(</text>
<text transform="matrix(0.39331,0,0,0.41979,800.020,93.180)" style="font-family:'Liberation Sans',sans-serif;font-weight:bold;font-size:100px">S</text>
<text transform="matrix(0.24583,0,0,0.23172,826.279,104.000)" style="font-family:'Liberation Sans',sans-serif;font-weight:bold;font-size:100px">h</text>
<text transform="matrix(0.41800,0,0,0.37351,850.224,95.223)" style="font-family:'Liberation Sans',sans-serif;font-weight:bold;font-size:100px">=</text>
<text transform="matrix(0.41053,0,0,0.40283,906.458,93.197)" style="font-family:'Liberation Sans',sans-serif;font-weight:bold;font-size:100px">0</text>
<text transform="matrix(0.39331,0,0,0.41979,800.020,139.180)" style="font-family:'Liberation Sans',sans-serif;font-weight:bold;font-size:100px">S</text>
<text transform="matrix(0.24583,0,0,0.23172,826.279,150.000)" style="font-family:'Liberation Sans',sans-serif;font-weight:bold;font-size:100px">h</text>
<text transform="matrix(0.41800,0,0,0.37351,850.224,141.223)" style="font-family:'Liberation Sans',sans-serif;font-weight:bold;font-size:100px">=</text>
<text transform="matrix(0.40952,0,0,0.40848,884.179,139.592)" style="font-family:'Liberation Sans',sans-serif;font-weight:bold;font-size:100px">30</text>
<text transform="matrix(0.39331,0,0,0.41979,800.020,185.230)" style="font-family:'Liberation Sans',sans-serif;font-weight:bold;font-size:100px">S</text>
<text transform="matrix(0.24583,0,0,0.23172,826.279,196.050)" style="font-family:'Liberation Sans',sans-serif;font-weight:bold;font-size:100px">h</text>
<text transform="matrix(0.41800,0,0,0.37351,850.224,187.273)" style="font-family:'Liberation Sans',sans-serif;font-weight:bold;font-size:100px">=</text>
<text transform="matrix(0.41546,0,0,0.40848,883.542,185.642)" style="font-family:'Liberation Sans',sans-serif;font-weight:bold;font-size:100px">60</text>
<text transform="matrix(0.39331,0,0,0.41979,800.020,231.080)" style="font-family:'Liberation Sans',sans-serif;font-weight:bold;font-size:100px">S</text>
<text transform="matrix(0.24583,0,0,0.23172,826.279,241.900)" style="font-family:'Liberation Sans',sans-serif;font-weight:bold;font-size:100px">h</text>
<text transform="matrix(0.41800,0,0,0.37351,850.224,233.123)" style="font-family:'Liberation Sans',sans-serif;font-weight:bold;font-size:100px">=</text>
<text transform="matrix(0.41446,0,0,0.40848,883.649,231.492)" style="font-family:'Liberation Sans',sans-serif;font-weight:bold;font-size:100px">90</text>
</g>
</svg>
</body></html>
